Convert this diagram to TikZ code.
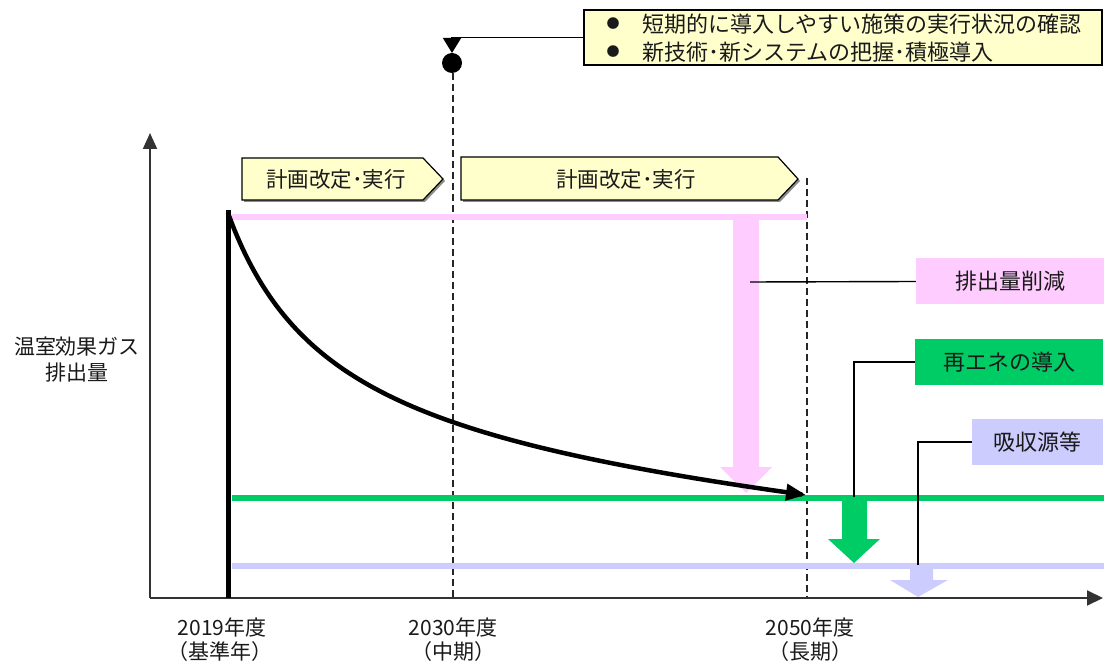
\documentclass[tikz,border=0pt]{standalone}
\usepackage{fontspec}
\setmainfont{Noto Sans CJK JP}
\usetikzlibrary{arrows.meta}
\definecolor{cpink}{HTML}{FFCCFF}
\definecolor{cgreen}{HTML}{00CC66}
\definecolor{clav}{HTML}{CCCCFF}
\definecolor{cyel}{HTML}{FFFFCC}
\definecolor{ctext}{HTML}{1A1A1A}
\tikzset{
  txt/.style={inner sep=0pt, text=ctext, font=\fontsize{21.5}{25}\selectfont},
  lbl/.style={inner sep=0pt, text=ctext, font=\fontsize{21}{25}\selectfont},
  boxlbl/.style={inner sep=0pt, text=ctext, font=\fontsize{22}{26}\selectfont},
  lblbox/.style={boxlbl, minimum height=46pt},
  band/.style={line width=6pt},
  dashv/.style={line width=1.4pt, dash pattern=on 7pt off 4pt, draw=black!85},
  conn/.style={line width=1.4pt, draw=black},
  chev/.style={draw=black, line width=1.2pt, fill=cyel},
}
\begin{document}
\begin{tikzpicture}[x=1pt, y=-1pt]
\useasboundingbox (0,0) rectangle (1104,668);

% axes
\draw[line width=2pt, draw=black!80, -{Triangle[length=16pt,width=14pt]}] (150,598) -- (150,133);
\draw[line width=2pt, draw=black!80, -{Triangle[length=16pt,width=15pt]}] (150,598) -- (1103,598);

% dashed verticals
\draw[dashv] (453,73) -- (453,597);
\draw[dashv] (807,178) -- (807,597);

% bands
\draw[band, cpink] (232,217) -- (807,217);
\draw[band, cgreen] (232,498) -- (1104,498);
\draw[band, clav] (232,566) -- (1104,566);

% block arrows
\fill[cpink] (733,220) -- (759,220) -- (759,467) -- (772,467) -- (746,493) -- (720,467) -- (733,467) -- cycle;
\fill[cgreen] (842,501) -- (867,501) -- (867,539) -- (880,539) -- (854,563) -- (828,539) -- (842,539) -- cycle;
\fill[clav] (910,569) -- (933,569) -- (933,580) -- (948,580) -- (918,597) -- (890,580) -- (910,580) -- cycle;

% emission curve
\draw[line width=5pt] (228,598) -- (228,210);
\draw[line width=4.5pt, -{Triangle[length=20pt,width=16pt]}]
  plot[domain=0:578, samples=120, smooth] ({228+\x}, {495 - 282*(1/(1+\x/105) - (\x/578)/(1+578/105))});

% chevrons
\fill[black!45] (244,160) -- (425,160) -- (445,181) -- (425,202) -- (244,202) -- cycle;
\draw[chev] (242,158) -- (423,158) -- (443,179) -- (423,200) -- (242,200) -- cycle;
\node[txt] (ch1) at (336,179) {計画改定･実行};
\fill[black!45] (463,159) -- (780,159) -- (800,181) -- (780,202) -- (463,202) -- cycle;
\draw[chev] (461,157) -- (778,157) -- (798,179) -- (778,200) -- (461,200) -- cycle;
\node[txt] (ch2) at (626,179) {計画改定･実行};

% top box
\node[draw=black, line width=1.4pt, fill=cyel, minimum width=518pt, minimum height=55pt, inner sep=0pt] (topbox) at (843,37.5) {};
\node[boxlbl, font=\fontsize{13}{13}\selectfont] (bul1) at (613,24) {●};
\node[boxlbl, font=\fontsize{13}{13}\selectfont] (bul2) at (613,52) {●};
\node[boxlbl, anchor=west] (t1) at (642,24) {短期的に導入しやすい施策の実行状況の確認};
\node[boxlbl, anchor=west] (t2) at (642,52) {新技術･新システムの把握･積極導入};

% milestone marker
\node[circle, fill=black, minimum size=20pt, inner sep=0pt] (dot) at (452,63) {};
\coordinate (tri) at (452,53);
\draw[conn, -{Triangle[length=15pt,width=18pt]}] (topbox.west) -| (tri);

% label boxes
\node[lblbox, fill=cpink, minimum width=188pt] (lred) at (1010,281.5) {排出量削減};
\node[lblbox, fill=cgreen, minimum width=188pt] (lren) at (1009,362) {再エネの導入};
\node[lblbox, fill=clav, minimum width=131pt] (labs) at (1037.5,442) {吸収源等};
\coordinate (c1) at (750,282);
\coordinate (c2) at (854,497);
\coordinate (c3) at (918,565);
\draw[conn] (lred.west) -- (c1);
\draw[conn] (lren.west) -| (c2);
\draw[conn] (labs.west) -| (c3);

% axis labels
\node[lbl] (yl1) at (77,347) {温室効果ガス};
\node[lbl] (yl2) at (77,373) {排出量};
\node[lbl] (x1a) at (222,627) {2019年度};
\node[lbl] (x1b) at (220,652) {（基準年）};
\node[lbl] (x2a) at (453,627) {2030年度};
\node[lbl] (x2b) at (453,652) {（中期）};
\node[lbl] (x3a) at (810,627) {2050年度};
\node[lbl] (x3b) at (810,652) {（長期）};
\end{tikzpicture}
\end{document}
